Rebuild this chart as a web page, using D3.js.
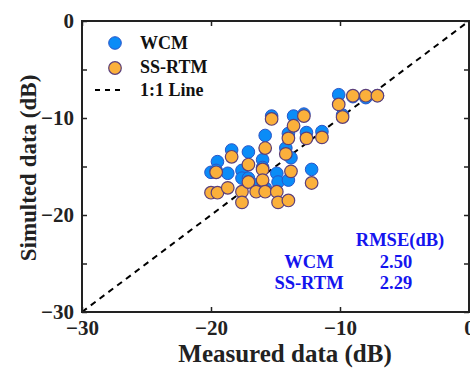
<!DOCTYPE html>
<html>
<head>
<meta charset="utf-8">
<script src="https://cdn.jsdelivr.net/npm/d3@7"></script>
<style>
  body { margin: 0; background: #fff; }
  svg text { font-family: "Liberation Serif", "Times New Roman", serif; font-weight: bold; }
</style>
</head>
<body>
<svg id="chart" width="470" height="370"></svg>
<script>
// ---- data ----
const measured = [-20.0, -19.5, -19.6, -18.7, -18.4, -17.6, -17.6, -17.1, -17.1, -16.5,
                  -16.0, -16.0, -15.8, -15.8, -15.3, -14.9, -14.8, -14.2, -14.0, -14.0,
                  -13.8, -13.6, -12.8, -12.6, -12.2, -11.4, -10.1, -9.8, -9.0, -8.0, -7.1];
const wcmSim   = [-15.6, -14.5, -15.4, -15.7, -13.3, -15.4, -16.2, -16.2, -13.5, -16.9,
                  -14.3, -15.1, -11.8, -17.2, -9.8, -15.7, -16.6, -13.1, -11.6, -16.4,
                  -14.1, -9.8, -9.6, -11.5, -15.3, -11.4, -7.6, -9.7, -7.8, -7.9, -7.7];
const ssrtmSim = [-17.7, -17.7, -15.6, -17.2, -14.0, -17.6, -18.7, -16.6, -14.8, -17.6,
                  -15.3, -16.4, -13.1, -17.6, -10.1, -17.6, -18.7, -13.7, -12.1, -18.5,
                  -15.5, -10.8, -9.8, -12.1, -16.7, -12.0, -8.6, -9.9, -7.7, -7.7, -7.7];

const xTicks = [-30, -20, -10, 0];
const yTicks = [-30, -25, -20, -15, -10, -5, 0];
const yLabels = [-30, -20, -10, 0];

const seriesNames = ["WCM", "SS-RTM"];
const rmseValues = ["2.50", "2.29"];

// ---- layout ----
const svg = d3.select("#chart");
const plotL = 82, plotR = 469, plotT = 21, plotB = 312;
const serif = "'Liberation Serif', 'Times New Roman', serif";

const x = d3.scaleLinear().domain([-30, 0]).range([plotL, plotR]);
const y = d3.scaleLinear().domain([-30, 0]).range([plotB, plotT]);

const fmt = d => d < 0 ? "\u2212" + Math.abs(d) : String(d);

// 1:1 line
svg.append("line")
    .attr("x1", x(-30)).attr("y1", y(-30))
    .attr("x2", x(0)).attr("y2", y(0))
    .attr("stroke", "#000")
    .attr("stroke-width", 2)
    .attr("stroke-dasharray", "6,5");

// points: WCM below, SS-RTM on top
const pts = svg.append("g");
pts.selectAll("circle.wcm")
    .data(measured.map((m, i) => [m, wcmSim[i]]))
    .join("circle")
    .attr("class", "wcm")
    .attr("cx", d => x(d[0]))
    .attr("cy", d => y(d[1]))
    .attr("r", 6.3)
    .attr("fill", "#0a8cf7")
    .attr("stroke", "#2a55c8")
    .attr("stroke-width", 1);

pts.selectAll("circle.ss")
    .data(measured.map((m, i) => [m, ssrtmSim[i]]))
    .join("circle")
    .attr("class", "ss")
    .attr("cx", d => x(d[0]))
    .attr("cy", d => y(d[1]))
    .attr("r", 6.3)
    .attr("fill", "#fbb03b")
    .attr("stroke", "#5b3f7a")
    .attr("stroke-width", 1.2);

// axes (ticks inward, box all round)
const axisCol = "#222";
const ax = svg.append("g");

ax.append("g")
    .attr("transform", `translate(0,${plotB})`)
    .call(d3.axisBottom(x).tickValues(xTicks).tickSize(-5).tickPadding(8).tickFormat(fmt));
ax.append("g")
    .attr("transform", `translate(0,${plotT})`)
    .call(d3.axisTop(x).tickValues(xTicks).tickSize(-5).tickFormat(""));
ax.append("g")
    .attr("transform", `translate(${plotL},0)`)
    .call(d3.axisLeft(y).tickValues(yTicks).tickSize(-5).tickPadding(8)
        .tickFormat(d => yLabels.includes(d) ? fmt(d) : ""));
ax.append("g")
    .attr("transform", `translate(${plotR},0)`)
    .call(d3.axisRight(y).tickValues(yTicks).tickSize(-5).tickFormat(""));

ax.selectAll(".domain").remove();
ax.selectAll(".tick line").attr("stroke", axisCol).attr("stroke-width", 1.5);
ax.selectAll(".tick text")
    .attr("fill", "#222")
    .style("font-family", serif)
    .style("font-weight", "bold")
    .style("font-size", "21px");

svg.append("rect")
    .attr("x", plotL).attr("y", plotT)
    .attr("width", plotR - plotL).attr("height", plotB - plotT)
    .attr("fill", "none")
    .attr("stroke", axisCol)
    .attr("stroke-width", 2);

// axis titles
svg.append("text")
    .attr("x", 285)
    .attr("y", 362)
    .attr("text-anchor", "middle")
    .attr("fill", "#222")
    .style("font-size", "25px")
    .text("Measured data (dB)");

svg.append("text")
    .attr("transform", `translate(36,168) rotate(-90)`)
    .attr("text-anchor", "middle")
    .attr("fill", "#222")
    .style("font-size", "23px")
    .text("Simulted data (dB)");

// legend
const legend = svg.append("g");
legend.append("circle").attr("cx", 115).attr("cy", 43).attr("r", 6.3)
    .attr("fill", "#0a8cf7").attr("stroke", "#2a55c8");
legend.append("circle").attr("cx", 115).attr("cy", 68).attr("r", 6.3)
    .attr("fill", "#fbb03b").attr("stroke", "#5b3f7a").attr("stroke-width", 1.2);
legend.append("line").attr("x1", 95).attr("x2", 125).attr("y1", 90).attr("y2", 90)
    .attr("stroke", "#000").attr("stroke-width", 2).attr("stroke-dasharray", "5,5");
legend.selectAll("text")
    .data([...seriesNames, "1:1 Line"])
    .join("text")
    .attr("x", 140)
    .attr("y", (d, i) => 49 + i * 23.5)
    .attr("fill", "#111")
    .style("font-size", "18px")
    .text(d => d);

// RMSE block
const rm = svg.append("g").attr("fill", "#1414ee").style("font-size", "18.5px");
rm.append("text").attr("x", 400).attr("y", 246).attr("text-anchor", "middle").text("RMSE(dB)");
seriesNames.forEach((name, i) => {
    rm.append("text").attr("x", 309).attr("y", 268 + i * 21).attr("text-anchor", "middle").text(name);
    rm.append("text").attr("x", 396).attr("y", 268 + i * 21).attr("text-anchor", "middle").text(rmseValues[i]);
});
</script>
</body>
</html>
